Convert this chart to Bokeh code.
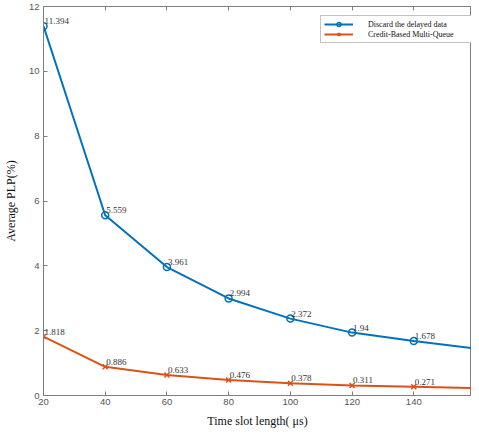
from bokeh.plotting import figure
from bokeh.models import ColumnDataSource, LinearAxis, FixedTicker, Legend, LegendItem, Range1d, LabelSet
from bokeh.embed import file_html
from bokeh.resources import INLINE

x_vals = [20, 40, 60, 80, 100, 120, 140, 160]
discard = [11.394, 5.559, 3.961, 2.994, 2.372, 1.94, 1.678, 1.45]
credit = [1.818, 0.886, 0.633, 0.476, 0.378, 0.311, 0.271, 0.23]
label_x = [20, 40, 60, 80, 100, 120, 140]
discard_labels = ["11.394", "5.559", "3.961", "2.994", "2.372", "1.94", "1.678"]
credit_labels = ["1.818", "0.886", "0.633", "0.476", "0.378", "0.311", "0.271"]
x_ticks = [20, 40, 60, 80, 100, 120, 140, 160]
y_ticks = [0, 2, 4, 6, 8, 10, 12]

BLUE = "#0072BD"
ORANGE = "#D95319"
AXC = "#7f7f7f"

p = figure(width=471, height=430, output_backend="svg", toolbar_location=None,
           x_range=Range1d(20, 158.7), y_range=Range1d(0, 12),
           min_border_left=42, min_border_right=0, min_border_top=6, min_border_bottom=0)
p.xgrid.visible = False
p.ygrid.visible = False
p.outline_line_color = AXC
p.background_fill_color = "white"

for ax in (p.xaxis[0], p.yaxis[0]):
    ax.axis_line_color = AXC
    ax.major_tick_line_color = AXC
    ax.major_tick_in = 4
    ax.major_tick_out = 0
    ax.minor_tick_line_color = None
    ax.major_label_text_font = "Liberation Sans"
    ax.major_label_text_font_size = "9.5px"
    ax.major_label_text_color = "#555555"
    ax.axis_label_text_font = "Liberation Serif"
    ax.axis_label_text_font_size = "12px"
    ax.axis_label_text_font_style = "normal"
    ax.axis_label_text_color = "#111111"
p.xaxis[0].ticker = FixedTicker(ticks=x_ticks)
p.yaxis[0].ticker = FixedTicker(ticks=y_ticks)
p.xaxis[0].axis_label = "Time slot length( \u03bcs)"
p.yaxis[0].axis_label = "Average PLP(%)"
p.xaxis[0].major_label_standoff = 3
p.xaxis[0].axis_label_standoff = 6
p.yaxis[0].major_label_standoff = 4
p.yaxis[0].axis_label_standoff = 8

top = LinearAxis(ticker=FixedTicker(ticks=x_ticks), axis_line_color=AXC,
                 major_tick_line_color=AXC, major_tick_in=4, major_tick_out=0,
                 minor_tick_line_color=None, major_label_standoff=0,
                 major_label_overrides={t: "" for t in x_ticks})
p.add_layout(top, "above")

src1 = ColumnDataSource(dict(x=x_vals, y=discard))
src2 = ColumnDataSource(dict(x=x_vals, y=credit))
l1 = p.line("x", "y", source=src1, color=BLUE, line_width=2)
m1 = p.scatter("x", "y", source=src1, marker="circle", size=7, line_color=BLUE,
               fill_color=None, line_width=1.5)
l2 = p.line("x", "y", source=src2, color=ORANGE, line_width=2)
m2 = p.scatter("x", "y", source=src2, marker="x", size=7, line_color=ORANGE, line_width=1.5)

lab1 = ColumnDataSource(dict(x=label_x, y=discard[:7], t=discard_labels))
lab2 = ColumnDataSource(dict(x=label_x, y=credit[:7], t=credit_labels))
for s in (lab1, lab2):
    p.add_layout(LabelSet(x="x", y="y", text="t", source=s, x_offset=1, y_offset=2,
                          text_font="Liberation Sans", text_font_size="9px",
                          text_color="#333333", text_baseline="bottom"))

legend = Legend(items=[LegendItem(label="Discard the delayed data", renderers=[l1, m1]),
                       LegendItem(label="Credit-Based Multi-Queue", renderers=[l2, m2])],
                location=(277, 352), label_text_font="Liberation Serif",
                label_text_font_size="8px", label_text_color="#111111",
                border_line_color="#888888", background_fill_alpha=1,
                spacing=0, padding=3, margin=0,
                glyph_width=29, glyph_height=10, label_height=10, label_width=108,
                label_standoff=15)
p.add_layout(legend)

open("out.html", "w").write(file_html(p, INLINE))
